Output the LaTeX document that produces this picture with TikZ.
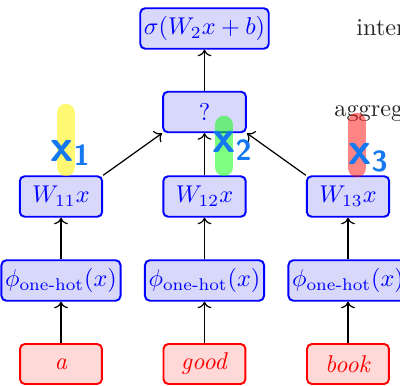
\documentclass[tikz,border=0pt]{standalone}
\usepackage{amsmath}
\usetikzlibrary{arrows.meta}
\definecolor{boxfill}{RGB}{216,216,250}
\definecolor{wordfill}{RGB}{255,216,216}
\definecolor{inkblue}{RGB}{20,120,240}
\tikzset{
  unit/.style={draw=blue, fill=boxfill, text=blue, line width=0.8pt,
    rounded corners=2pt, minimum height=16.7pt, inner sep=1.5pt},
  word/.style={draw=red, fill=wordfill, text=red, line width=0.8pt,
    rounded corners=2pt, minimum height=16.5pt, minimum width=33.8pt},
  flow/.style={->, line width=0.5pt, black},
  marker/.style={line width=7.6pt, line cap=round},
  ink/.style={text=inkblue, font=\sffamily\bfseries\fontsize{19}{19}\selectfont, inner sep=0pt},
  side/.style={anchor=base west, inner sep=0pt, text=black!85}
}
\begin{document}
\begin{tikzpicture}[x=0.4125pt, y=-0.4125pt]
\useasboundingbox (0,0) rectangle (400,386);

% output layer and aggregation
\node[unit, minimum width=52.4pt] (out) at (204.5,28.5) {$\sigma(W_2x+b)$};
\node[unit, minimum width=34.2pt] (agg) at (204.5,112) {?};

% per-word projections
\node[unit, minimum width=34pt] (w1) at (61,196.5) {$W_{11}x$};
\node[unit, minimum width=34pt] (w2) at (204.5,196.5) {$W_{12}x$};
\node[unit, minimum width=34pt] (w3) at (348,196.5) {$W_{13}x$};

% one-hot encodings
\node[unit, minimum width=46.6pt] (p1) at (61,280.5) {$\phi_{\text{one-hot}}(x)$};
\node[unit, minimum width=46.6pt] (p2) at (204.5,280.5) {$\phi_{\text{one-hot}}(x)$};
\node[unit, minimum width=46.6pt] (p3) at (348,280.5) {$\phi_{\text{one-hot}}(x)$};

% input words
\node[word] (a1) at (61,364) {\textit{a}};
\node[word] (a2) at (204.5,364) {\textit{good}};
\node[word] (a3) at (348,364) {\textit{book}};

% connections
\draw[flow] (a1) -- (p1);
\draw[flow] (a2) -- (p2);
\draw[flow] (a3) -- (p3);
\draw[flow] (p1) -- (w1);
\draw[flow] (p2) -- (w2);
\draw[flow] (p3) -- (w3);
\draw[flow] (w1.north east) -- (agg.south west);
\draw[flow] (w2) -- (agg);
\draw[flow] (w3.north west) -- (agg.south east);
\draw[flow] (agg) -- (out);

% side labels
\node[side] (lint) at (356,36) {inter};
\node[side] (lagg) at (334,117) {aggrega};

% highlighter strokes
\coordinate (y1) at (66,113); \coordinate (y2) at (66,167);
\coordinate (g1) at (224,125); \coordinate (g2) at (224,167);
\coordinate (r1) at (357,122); \coordinate (r2) at (357,168);
\draw[marker, yellow, opacity=0.55] (y1) -- (y2);
\draw[marker, green, opacity=0.5] (g1) -- (g2);
\draw[marker, red, opacity=0.48] (r1) -- (r2);

% handwritten variable names
\node[ink] (x1) at (70,153) {x\raisebox{-2pt}{\large 1}};
\node[ink] (x2) at (232,146) {x\raisebox{-3pt}{\large 2}};
\node[ink] (x3) at (368,158) {x\raisebox{-3pt}{\large 3}};
\end{tikzpicture}
\end{document}
